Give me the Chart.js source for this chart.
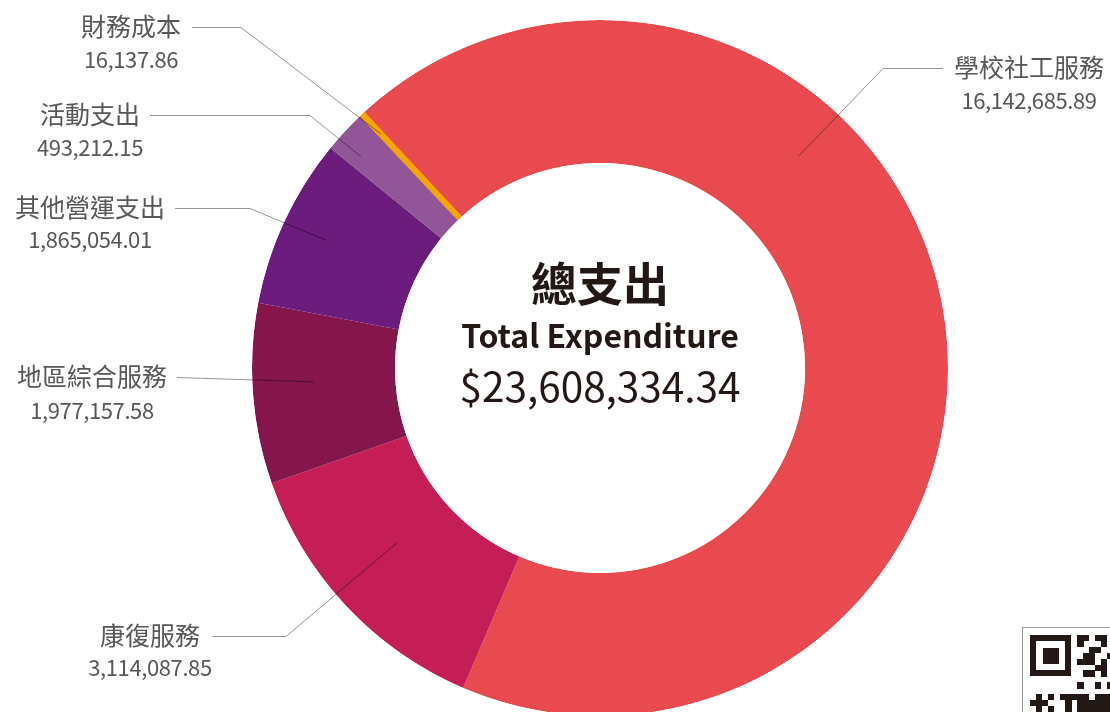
<!DOCTYPE html>
<html lang="zh-Hant">
<head>
<meta charset="utf-8">
<title>總支出 Total Expenditure</title>
<script src="https://cdn.jsdelivr.net/npm/chart.js@4.4.1/dist/chart.umd.min.js"></script>
<style>
html, body { margin:0; padding:0; background:#fff; }
body { width:1110px; height:712px; overflow:hidden; position:relative; font-family:"Noto Sans CJK TC","Noto Sans",sans-serif; }
#expChart { position:absolute; left:0; top:0; }
.lbl { position:absolute; white-space:nowrap; color:#595757; line-height:1; transform:translateX(-50%); }
.lbl-name { font-size:25px; }
.lbl-val { font-size:22px; letter-spacing:-0.4px; }
.center-txt { position:absolute; left:600px; transform:translateX(-50%); color:#231815; white-space:nowrap; line-height:1; }
#ttlZh { font-size:46px; font-weight:700; }
#ttlEn { font-size:32px; font-weight:600; }
#ttlAmt { font-size:40.5px; font-weight:400; }
.qr { position:absolute; left:1022px; top:627px; width:110px; height:110px; border:1px solid #9a9a9a; background:#fff; }
.qr i { position:absolute; background:#231815; }
</style>
</head>
<body>
<canvas id="expChart" width="1110" height="712"></canvas>
<div id="ttlZh" class="center-txt"></div>
<div id="ttlEn" class="center-txt"></div>
<div id="ttlAmt" class="center-txt"></div>
<div class="qr" id="qrBox"></div>
<script>
// 차트 데이터
var categories    = ["學校社工服務", "康復服務", "地區綜合服務", "其他營運支出", "活動支出", "財務成本"];
var expenseValues = [16142685.89, 3114087.85, 1977157.58, 1865054.01, 493212.15, 16137.86];
var sliceColors   = ["#E84A50", "#C51D55", "#84164C", "#6B1C7C", "#925597", "#F6A600"];
var totalTitle    = "總支出";
var totalSubTitle = "Total Expenditure";
var totalLabel    = "$23,608,334.34";

// 라벨 배치 (글자 중심 x, 이름 y, 금액 y, 지시선 시작 x, 꺾임 x, 조각 내 위치 비율)
var labelLayout = [
	{x:1029, nameY:68,  valY:101, lineX:943, elbowX:883,  angFrac:0.35, radFrac:0.60},
	{x:150,  nameY:636, valY:668, lineX:212, elbowX:286,  angFrac:0.55, radFrac:0.44},
	{x:92,   nameY:377, valY:411, lineX:177, elbowX:null, angFrac:0.55, radFrac:0.57},
	{x:90,   nameY:208, valY:240, lineX:175, elbowX:250,  angFrac:0.50, radFrac:0.68},
	{x:90,   nameY:115, valY:148, lineX:150, elbowX:310,  angFrac:0.30, radFrac:0.80},
	{x:131,  nameY:27,  valY:60,  lineX:192, elbowX:241,  angFrac:0.50, radFrac:0.81}
];

/**
 * 금액 표시 형식
 */
function fmtMoney(v){
	return v.toLocaleString("en-US", {minimumFractionDigits:2, maximumFractionDigits:2});
}

/**
 * 라벨(항목명, 금액) 생성
 */
function buildLabels(){
	for(var i=0; i<categories.length; i++){
		var lay = labelLayout[i];
		var nm = document.createElement("div");
		nm.className = "lbl lbl-name";
		nm.textContent = categories[i];
		nm.style.left = lay.x + "px";
		nm.style.top = (lay.nameY - 0.556*25) + "px";
		document.body.appendChild(nm);

		var vl = document.createElement("div");
		vl.className = "lbl lbl-val";
		vl.textContent = fmtMoney(expenseValues[i]);
		vl.style.left = lay.x + "px";
		vl.style.top = (lay.valY - 0.611*22) + "px";
		document.body.appendChild(vl);
	}
	var zh = document.getElementById("ttlZh");
	zh.textContent = totalTitle;
	zh.style.top = (284 - 0.556*46) + "px";
	var en = document.getElementById("ttlEn");
	en.textContent = totalSubTitle;
	en.style.top = (337 - 0.606*32) + "px";
	var amt = document.getElementById("ttlAmt");
	amt.textContent = totalLabel;
	amt.style.top = (390 - 0.611*40.5) + "px";
}

/**
 * QR 코드 모양 (오른쪽 아래 일부)
 */
function buildQr(){
	var box = document.getElementById("qrBox");
	var m = 5.9;
	var cells = [
		[8,0],[9,0],[11,0],[12,0],[8,1],[12,1],[10,2],[11,2],[9,3],[10,3],[13,3],
		[8,4],[9,4],[10,4],[12,4],[11,5],[12,5],[9,6],[10,6],[12,6],[8,8],[11,8],[13,8],
		[1,10],[3,10],[5,10],[6,10],[7,10],[8,10],[9,10],[11,10],[12,10],[13,10],
		[0,11],[1,11],[2,11],[6,11],[8,11],[9,11],[10,11],[11,11],[12,11],[13,11],
		[1,12],[3,12],[6,12],[8,12],[9,12],[10,12],[11,12],[12,12],[13,12]
	];
	var html = "";
	// 위치 탐지 패턴
	html += '<i style="left:7px;top:7px;width:41px;height:41px;"></i>';
	html += '<i style="left:13px;top:13px;width:29px;height:29px;background:#fff;"></i>';
	html += '<i style="left:20px;top:20px;width:16px;height:16px;"></i>';
	for(var i=0; i<cells.length; i++){
		html += '<i style="left:' + (7 + cells[i][0]*m) + 'px;top:' + (7 + cells[i][1]*m) + 'px;width:' + (m+0.5) + 'px;height:' + (m+0.5) + 'px;"></i>';
	}
	box.innerHTML = html;
}

// 링 바깥으로 나가는 테두리 자르기
var ringClipPlugin = {
	id: "ringClip",
	beforeDatasetDraw: function(chart, args){
		var el = args.meta.data[0];
		if(!el) return;
		var p = el.getProps(["x", "y", "innerRadius", "outerRadius"], true);
		var ctx = chart.ctx;
		ctx.save();
		ctx.beginPath();
		ctx.arc(p.x, p.y, p.outerRadius, 0, Math.PI * 2);
		ctx.arc(p.x, p.y, p.innerRadius, 0, Math.PI * 2, true);
		ctx.clip();
	},
	afterDatasetDraw: function(chart){
		chart.ctx.restore();
	}
};

// 지시선 그리기
var leaderLinePlugin = {
	id: "leaderLines",
	afterDatasetsDraw: function(chart){
		var ctx = chart.ctx;
		var meta = chart.getDatasetMeta(0);
		ctx.save();
		ctx.strokeStyle = "rgba(0, 0, 0, 0.42)";
		ctx.lineWidth = 1;
		for(var i=0; i<meta.data.length; i++){
			var arc = meta.data[i].getProps(["x", "y", "startAngle", "endAngle", "innerRadius", "outerRadius"], true);
			var lay = labelLayout[i];
			var a = arc.startAngle + (arc.endAngle - arc.startAngle) * lay.angFrac;
			var r = arc.innerRadius + (arc.outerRadius - arc.innerRadius) * lay.radFrac;
			var ax = arc.x + Math.cos(a) * r;
			var ay = arc.y + Math.sin(a) * r;
			var ly = lay.nameY + 0.5;
			ctx.beginPath();
			ctx.moveTo(lay.lineX, ly);
			if(lay.elbowX !== null){
				ctx.lineTo(lay.elbowX, ly);
			}
			ctx.lineTo(ax, ay);
			ctx.stroke();
		}
		ctx.restore();
	}
};

var ctx = document.getElementById("expChart").getContext("2d");
new Chart(ctx, {
	type: "doughnut",
	data: {
		labels: categories,
		datasets: [{
			data: expenseValues,
			backgroundColor: sliceColors,
			borderColor: sliceColors,
			borderWidth: [0, 0, 0, 0, 0, 5],
			clip: false
		}]
	},
	options: {
		responsive: false,
		animation: false,
		events: [],
		rotation: -43,
		cutout: "58.9%",
		radius: 348,
		layout: { padding: { left: 90, top: 24, right: 0, bottom: 0 } },
		plugins: {
			legend: { display: false },
			tooltip: { enabled: false }
		}
	},
	plugins: [ringClipPlugin, leaderLinePlugin]
});

buildLabels();
buildQr();
</script>
</body>
</html>
